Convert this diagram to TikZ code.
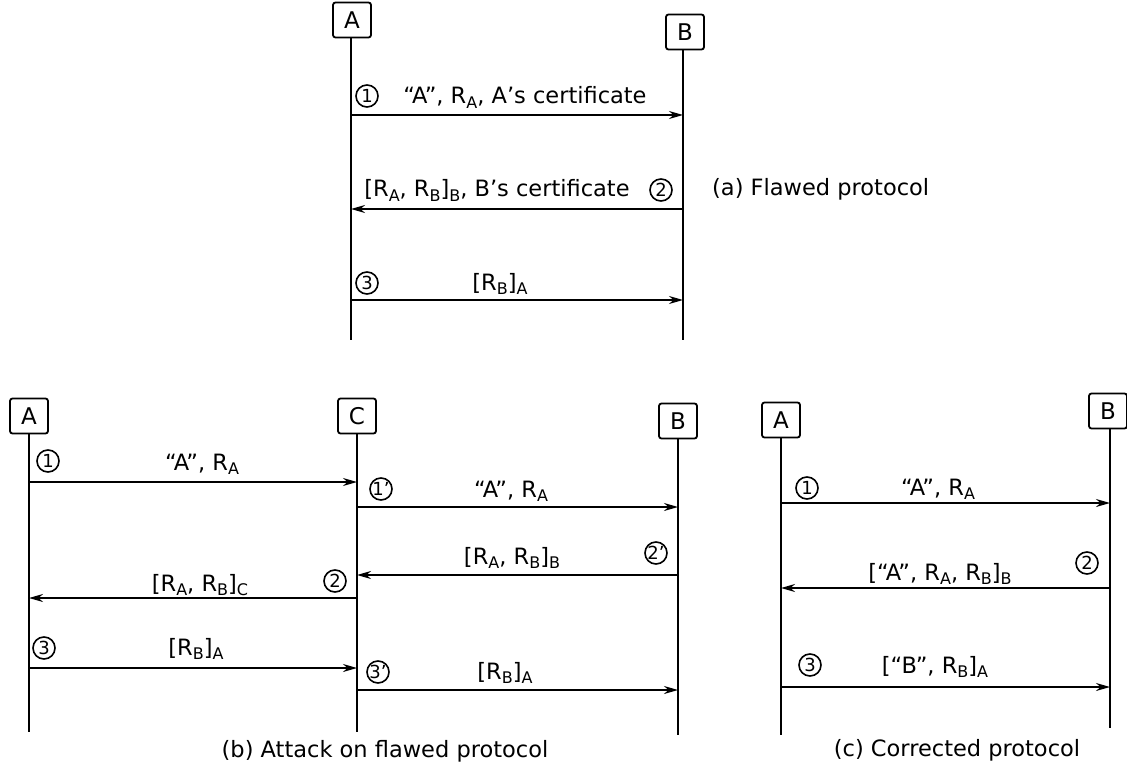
\documentclass[tikz,border=0pt]{standalone}
\usepackage{fontspec}
\setmainfont{DejaVu Sans}
\usetikzlibrary{arrows.meta}
\newcommand\sbs[1]{\raisebox{-0.35ex}{\fontsize{16}{16}\selectfont #1}}
\tikzset{
  ent/.style={draw,line width=1.8pt,rounded corners=2.5pt,minimum width=38pt,minimum height=35pt,inner sep=0pt,font=\fontsize{23}{23}\selectfont},
  life/.style={line width=1.8pt},
  msg/.style={line width=1.8pt,-{Stealth[length=14pt,width=8pt]}},
  lbl/.style={anchor=base,inner sep=0pt,font=\fontsize{22.5}{24}\selectfont},
  capt/.style={anchor=base,inner sep=0pt,font=\fontsize{22.5}{24}\selectfont},
  num/.style={circle,draw,line width=1.6pt,inner sep=0pt,minimum size=22pt,font=\fontsize{18}{18}\selectfont}
}
\begin{document}
\begin{tikzpicture}[x=1pt,y=-1pt]
\useasboundingbox (0,0) rectangle (1127,770);
% ---------- (a) ----------
\node[ent] (aA) at (352,20) {A};
\node[ent] (aB) at (685,32) {B};
\coordinate (aAe) at (351,340);
\coordinate (aBe) at (683,340);
\draw[life] (aA.south -| aAe) -- (aAe);
\draw[life] (aB.south -| aBe) -- (aBe);
\coordinate (a1s) at (351,115); \coordinate (a1e) at (683,115);
\coordinate (a2s) at (683,209); \coordinate (a2e) at (351,209);
\coordinate (a3s) at (351,300); \coordinate (a3e) at (683,300);
\draw[msg] (a1s) -- (a1e);
\draw[msg] (a2s) -- (a2e);
\draw[msg] (a3s) -- (a3e);
\node[num] (an1) at (367,96) {1};
\node[lbl] (al1) at (525,104) {“A”, R\sbs{A}, A’s certificate};
\node[num] (an2) at (661,190) {2};
\node[lbl] (al2) at (497,197) {[R\sbs{A}, R\sbs{B}]\sbs{B}, B’s certificate};
\node[capt,anchor=base west] (acap) at (712,196) {(a) Flawed protocol};
\node[num] (an3) at (367,283) {3};
\node[lbl] (al3) at (500,290) {[R\sbs{B}]\sbs{A}};
% ---------- (b) ----------
\node[ent] (bA) at (29,416) {A};
\node[ent] (bC) at (357,416) {C};
\node[ent] (bB) at (678,421) {B};
\coordinate (bAe) at (29,732);
\coordinate (bCe) at (357,732);
\coordinate (bBe) at (678,735);
\draw[life] (bA.south) -- (bAe);
\draw[life] (bC.south) -- (bCe);
\draw[life] (bB.south) -- (bBe);
\coordinate (b1s) at (29,482); \coordinate (b1e) at (357,482);
\coordinate (b1ps) at (357,507); \coordinate (b1pe) at (678,507);
\coordinate (b2ps) at (678,575); \coordinate (b2pe) at (357,575);
\coordinate (b2s) at (357,598); \coordinate (b2e) at (29,598);
\coordinate (b3s) at (29,668); \coordinate (b3e) at (357,668);
\coordinate (b3ps) at (357,690); \coordinate (b3pe) at (678,690);
\draw[msg] (b1s) -- (b1e);
\draw[msg] (b1ps) -- (b1pe);
\draw[msg] (b2ps) -- (b2pe);
\draw[msg] (b2s) -- (b2e);
\draw[msg] (b3s) -- (b3e);
\draw[msg] (b3ps) -- (b3pe);
\node[num] (bn1) at (48,461) {1};
\node[lbl] (bl1) at (202,470) {“A”, R\sbs{A}};
\node[num] (bn1p) at (381,489) {1’};
\node[lbl] (bl1p) at (511,497) {“A”, R\sbs{A}};
\node[num] (bn2p) at (656,553) {2’};
\node[lbl] (bl2p) at (512,564) {[R\sbs{A}, R\sbs{B}]\sbs{B}};
\node[num] (bn2) at (335,581) {2};
\node[lbl] (bl2) at (200,591) {[R\sbs{A}, R\sbs{B}]\sbs{C}};
\node[num] (bn3) at (44,648) {3};
\node[lbl] (bl3) at (196,655) {[R\sbs{B}]\sbs{A}};
\node[num] (bn3p) at (378,672) {3’};
\node[lbl] (bl3p) at (505,679) {[R\sbs{B}]\sbs{A}};
\node[capt] (bcap) at (385,757) {(b) Attack on flawed protocol};
% ---------- (c) ----------
\node[ent] (cA) at (781,420) {A};
\node[ent] (cB) at (1108,411) {B};
\coordinate (cAe) at (781,735);
\coordinate (cBe) at (1110,728);
\draw[life] (cA.south) -- (cAe);
\draw[life] (cB.south -| cBe) -- (cBe);
\coordinate (c1s) at (781,503); \coordinate (c1e) at (1110,503);
\coordinate (c2s) at (1110,588); \coordinate (c2e) at (781,588);
\coordinate (c3s) at (781,687); \coordinate (c3e) at (1110,687);
\draw[msg] (c1s) -- (c1e);
\draw[msg] (c2s) -- (c2e);
\draw[msg] (c3s) -- (c3e);
\node[num] (cn1) at (807,488) {1};
\node[lbl] (cl1) at (938,495) {“A”, R\sbs{A}};
\node[num] (cn2) at (1087,563) {2};
\node[lbl] (cl2) at (940,580) {[“A”, R\sbs{A}, R\sbs{B}]\sbs{B}};
\node[num] (cn3) at (810,665) {3};
\node[lbl] (cl3) at (935,673) {[“B”, R\sbs{B}]\sbs{A}};
\node[capt] (ccap) at (957,756) {(c) Corrected protocol};
\end{tikzpicture}
\end{document}
